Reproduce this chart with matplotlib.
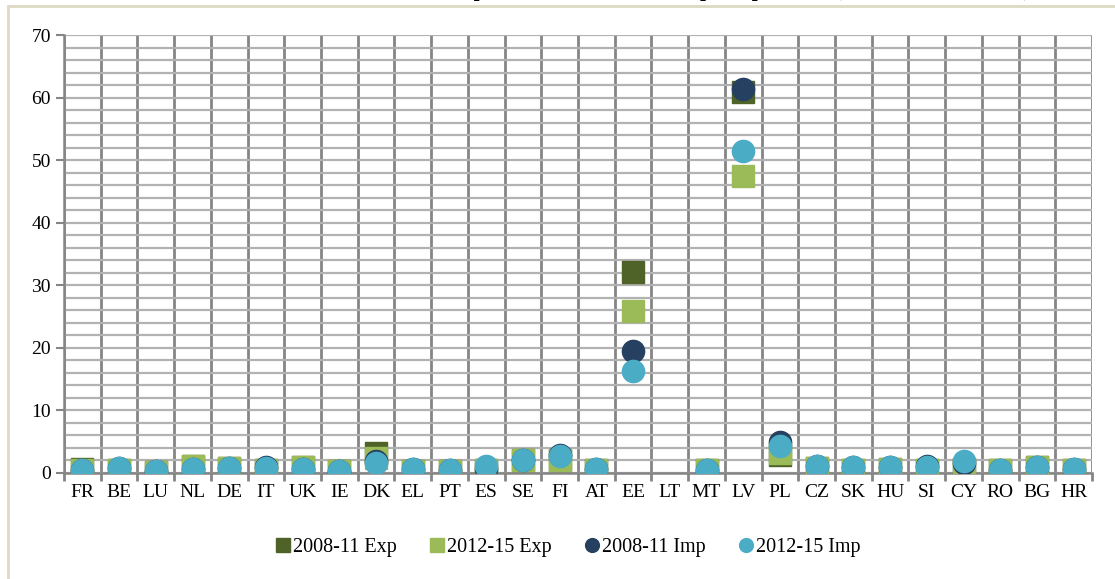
import matplotlib.pyplot as plt
import numpy as np
from matplotlib.patches import Rectangle

plt.rcParams['font.family'] = ['Liberation Serif', 'DejaVu Serif']

countries = ['FR', 'BE', 'LU', 'NL', 'DE', 'IT', 'UK', 'IE', 'DK', 'EL', 'PT', 'ES', 'SE', 'FI',
             'AT', 'EE', 'LT', 'MT', 'LV', 'PL', 'CZ', 'SK', 'HU', 'SI', 'CY', 'RO', 'BG', 'HR']
nan = np.nan
exp_0811 = [0.6, 0.5, 0.15, 1.1, 0.8, 0.5, 0.9, 0.35, 3.2, 0.3, 0.3, 0.4, 2.0, 2.0,
            0.5, 32.1, nan, 0.5, 60.9, 2.9, 0.75, 0.5, 0.65, 0.5, 0.6, 0.5, 0.85, 0.5]
exp_1215 = [0.5, 0.5, 0.15, 1.05, 0.7, 0.5, 0.9, 0.35, 2.4, 0.3, 0.3, 0.4, 2.0, 2.1,
            0.5, 25.9, nan, 0.5, 47.4, 3.1, 0.75, 0.5, 0.65, 0.5, 0.6, 0.5, 0.85, 0.5]
imp_0811 = [0.5, 0.7, 0.3, 0.6, 0.8, 0.85, 0.6, 0.25, 1.9, 0.6, 0.4, 0.6, 2.1, 2.8,
            0.65, 19.5, nan, 0.5, 61.3, 4.9, 1.0, 0.85, 0.95, 1.1, 1.6, 0.5, 0.95, 0.65]
imp_1215 = [0.5, 0.7, 0.3, 0.6, 0.8, 0.8, 0.6, 0.25, 1.5, 0.6, 0.4, 1.0, 2.1, 2.6,
            0.65, 16.3, nan, 0.5, 51.4, 4.3, 1.07, 0.85, 0.95, 0.95, 1.9, 0.5, 0.95, 0.65]

fig = plt.figure(figsize=(11.15, 5.79), dpi=100)
ax = fig.add_axes([64 / 1115, 1 - 472.7 / 579, (1092 - 64) / 1115, (472.7 - 35) / 579])

# outer chart frame (only left and top edges fall inside the picture)
fig.patches.append(Rectangle((8 / 1115, -0.1), 1.2, 1 - 5.5 / 579 + 0.1, transform=fig.transFigure,
                             fill=False, edgecolor='#ddd9c3', lw=2, zorder=0))

# title, cut by the top of the picture (only descenders show)
fig.text(1030 / 1115, 1 + 4 / 579, 'Net imports and total electric exports per head (2008-11 and 2012-15)',
         ha='right', va='baseline', fontsize=15, fontweight='bold')

x = np.arange(len(countries))
ax.plot(x, exp_0811, 's', color='#4f6228', ms=16, mec='#4f6228', label='2008-11 Exp', zorder=3)
ax.plot(x, exp_1215, 's', color='#9bbb59', ms=16, mec='#9bbb59', label='2012-15 Exp', zorder=3)
ax.plot(x, imp_0811, 'o', color='#254061', ms=16, mec='#254061', label='2008-11 Imp', zorder=3)
ax.plot(x, imp_1215, 'o', color='#4bacc6', ms=16, mec='#4bacc6', label='2012-15 Imp', zorder=3)

ax.set_xlim(-0.5, len(countries) - 0.5)
ax.set_ylim(0, 70)

ax.set_xticks(np.arange(-0.5, len(countries)), [''] * (len(countries) + 1))
ax.set_xticks(x, countries, minor=True)
ax.tick_params(axis='x', which='major', length=6, color='#858585', width=2)
ax.tick_params(axis='x', which='minor', length=0, labelsize=14, pad=8)
ax.xaxis.grid(True, which='major', color='#858585', lw=2)

ax.set_yticks(np.arange(0, 71, 10))
ax.set_yticks(np.arange(0, 71, 2), minor=True)
ax.tick_params(axis='y', which='major', length=6, color='#858585', width=1.5, labelsize=14)
ax.tick_params(axis='y', which='minor', length=0)
ax.yaxis.grid(True, which='both', color='#b2b2b2', lw=1.6)
ax.set_axisbelow(True)

for s in ['top', 'right']:
    ax.spines[s].set_visible(False)
for s in ['left', 'bottom']:
    ax.spines[s].set_color('#858585')
    ax.spines[s].set_linewidth(1.8)

fig.legend(loc='center', bbox_to_anchor=(0.51, 1 - 547 / 579), ncol=4, frameon=False,
           fontsize=14.5, markerscale=0.62, handlelength=0.6, handletextpad=0.2, columnspacing=1.7)

fig.savefig('out.png', dpi=100)
